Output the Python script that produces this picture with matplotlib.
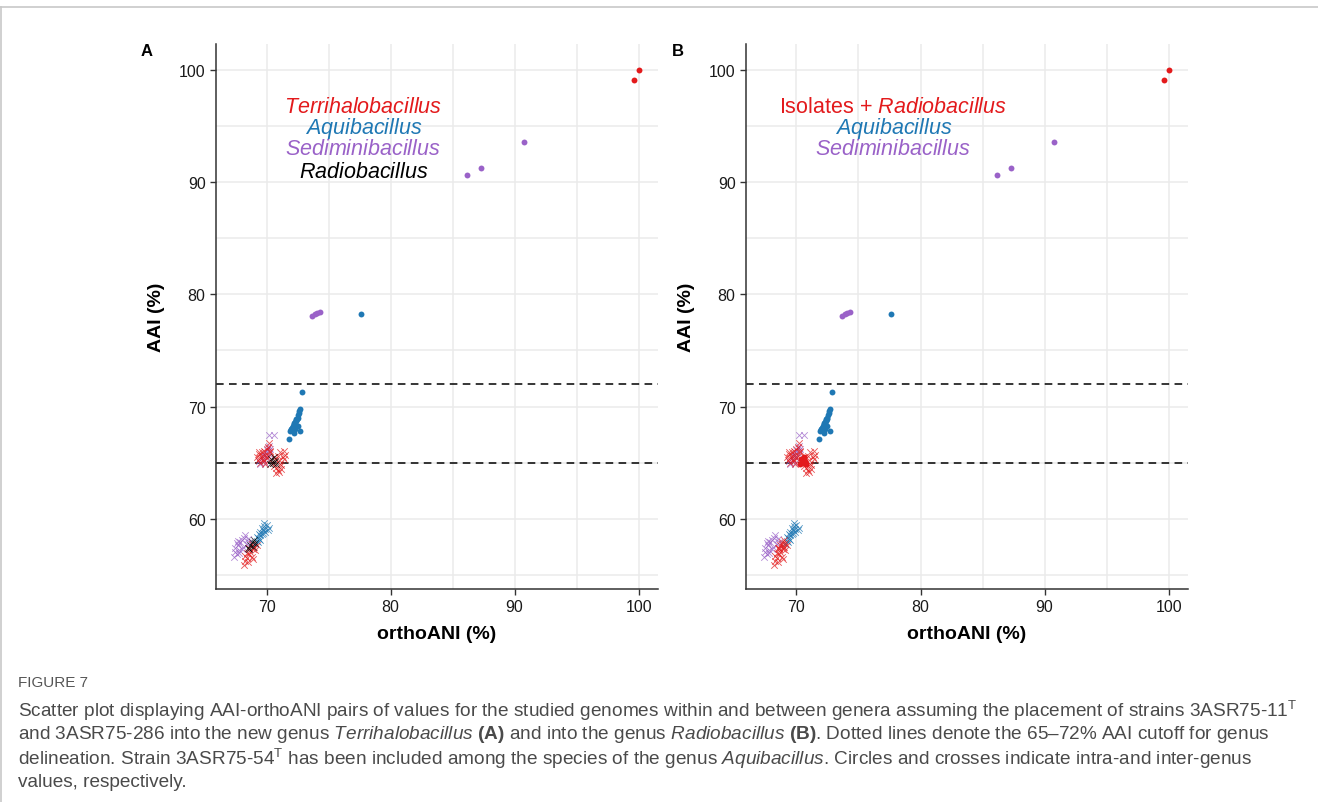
import matplotlib
matplotlib.use("Agg")
import matplotlib.pyplot as plt
from matplotlib.lines import Line2D

plt.rcParams['font.family'] = ['Liberation Sans', 'DejaVu Sans']
plt.rcParams['mathtext.fontset'] = 'custom'
plt.rcParams['mathtext.rm'] = 'Liberation Sans'
plt.rcParams['mathtext.it'] = 'Liberation Sans:italic'
plt.rcParams['mathtext.bf'] = 'Liberation Sans:bold'

RED = '#E31A1C'
BLUE = '#1F78B4'
PURPLE = '#9A62C8'

# intra-genus pairs (circles)
terri_intra_x = [99.6, 100.0]
terri_intra_y = [99.1, 100.0]
sedi_intra_x = [86.2, 87.3, 90.8, 73.7, 73.9, 74.1, 74.3]
sedi_intra_y = [90.7, 91.25, 93.6, 78.1, 78.25, 78.35, 78.4]
aqui_intra_x = [72.85, 72.7, 72.65, 72.6, 72.55, 72.5, 72.45, 72.4, 72.35, 72.3, 72.25, 72.2,
                72.15, 72.1, 72.05, 72.0, 71.95, 71.9, 72.3, 72.5, 72.7, 71.8, 72.2, 72.4, 77.6]
aqui_intra_y = [71.3, 69.8, 69.6, 69.4, 69.2, 69.0, 68.9, 68.8, 68.7, 68.6, 68.5, 68.4,
                68.3, 68.2, 68.1, 68.0, 67.9, 67.8, 68.0, 68.3, 67.8, 67.1, 67.6, 68.9, 78.25]

# inter-genus pairs (crosses)
terri_cross_x = [69.2, 69.3, 69.4, 69.5, 69.6, 69.7, 69.8, 69.9, 70.0, 70.1, 70.2, 70.3, 69.4, 69.6,
                 69.8, 70.0, 70.1, 69.5, 69.9, 70.3,
                 70.5, 70.6, 70.7, 70.8, 70.9, 71.0, 71.1, 71.2, 71.3, 71.4, 71.5, 71.0, 70.8, 71.2,
                 70.6, 71.1, 71.4, 70.9,
                 68.2, 68.3, 68.4, 68.5, 68.6, 68.7, 68.8, 68.9, 69.0, 69.1, 68.4, 68.6, 68.8, 69.2,
                 68.3, 68.9]
terri_cross_y = [65.5, 65.2, 65.8, 65.0, 65.6, 65.3, 66.0, 64.9, 65.4, 66.4, 66.7, 65.9, 65.9, 65.9,
                 65.1, 66.2, 65.6, 65.4, 65.7, 66.0,
                 65.0, 64.7, 65.3, 64.5, 65.6, 64.2, 65.9, 64.8, 65.5, 66.0, 65.7, 65.2, 64.1, 64.4,
                 65.5, 64.9, 65.3, 64.3,
                 55.9, 56.2, 56.5, 56.1, 56.8, 57.0, 56.6, 57.3, 57.5, 57.2, 56.9, 57.4, 57.7, 57.6,
                 56.7, 56.4]
sedi_cross_x = [69.4, 69.6, 69.8, 69.9, 70.0, 70.1, 70.2, 70.3, 69.7, 69.9, 70.0, 70.2, 69.5, 69.8,
                70.2, 70.6,
                67.4, 67.5, 67.5, 67.6, 67.7, 67.8, 67.9, 68.0, 68.1, 68.2, 68.3, 68.5, 68.6, 67.6,
                67.8, 68.0, 67.7, 68.4]
sedi_cross_y = [65.1, 65.4, 65.6, 65.9, 66.1, 66.3, 66.5, 66.2, 65.2, 65.0, 65.5, 65.8, 64.9, 65.7,
                67.5, 67.5,
                56.6, 57.0, 57.4, 56.8, 57.6, 57.2, 57.9, 58.1, 57.5, 58.3, 58.5, 58.2, 57.9, 57.8,
                56.9, 57.3, 58.0, 57.7]
aqui_cross_x = [69.1, 69.2, 69.3, 69.3, 69.4, 69.5, 69.5, 69.6, 69.7, 69.7, 69.8, 69.9, 70.0, 70.1,
                69.4, 69.6, 69.8, 69.2, 69.9, 70.2, 69.5]
aqui_cross_y = [57.7, 58.0, 57.9, 58.3, 58.2, 58.5, 58.8, 58.6, 59.0, 58.7, 59.3, 59.1, 59.4, 59.0,
                58.6, 59.2, 59.6, 58.4, 58.8, 59.2, 58.1]
# Radiobacillus vs Terrihalobacillus, and Radiobacillus vs the rest
radio_terri_x = [70.3, 70.4, 70.5, 70.6, 70.7, 70.8]
radio_terri_y = [64.9, 65.3, 65.0, 65.5, 65.1, 64.9]
radio_other_x = [68.5, 68.7, 68.8, 68.9, 69.0, 69.1, 68.6]
radio_other_y = [57.4, 57.6, 57.9, 57.5, 58.1, 57.8, 57.3]

labels_a = ['$\\mathit{Terrihalobacillus}$', '$\\mathit{Aquibacillus}$',
            '$\\mathit{Sediminibacillus}$', '$\\mathit{Radiobacillus}$']
colors_a = [RED, BLUE, PURPLE, 'black']
labels_b = ['Isolates + $\\mathit{Radiobacillus}$', '$\\mathit{Aquibacillus}$',
            '$\\mathit{Sediminibacillus}$']
colors_b = [RED, BLUE, PURPLE]
label_y = [96.8, 94.9, 93.0, 91.0]

fig = plt.figure(figsize=(13.18, 8.03), dpi=100)

# frame lines of the figure box
fig.add_artist(Line2D([0, 1], [0.990, 0.990], color='#C8C8C8', lw=1.2))
fig.add_artist(Line2D([0.001, 0.001], [0, 0.990], color='#C8C8C8', lw=1.2))


def draw_panel(ax, panel):
    ax.set_xlim(65.93, 101.57)
    ax.set_ylim(53.72, 102.35)
    for v in [70, 75, 80, 85, 90, 95, 100]:
        ax.axvline(v, color='#EBEBEB', lw=1.1, zorder=0)
    for v in [55, 60, 65, 70, 75, 80, 85, 90, 95, 100]:
        ax.axhline(v, color='#EBEBEB', lw=1.1, zorder=0)
    ax.axhline(72, color='black', lw=1.1, ls=(0, (5, 3.5)), zorder=1)
    ax.axhline(65, color='black', lw=1.1, ls=(0, (5, 3.5)), zorder=1)

    ck = dict(marker='x', s=22, linewidths=0.6, alpha=0.75, zorder=2)
    ok = dict(marker='o', s=18, linewidths=0, zorder=3)
    ax.scatter(sedi_cross_x, sedi_cross_y, color=PURPLE, **ck)
    ax.scatter(aqui_cross_x, aqui_cross_y, color=BLUE, **ck)
    ax.scatter(terri_cross_x, terri_cross_y, color=RED, **ck)
    if panel == 'A':
        ax.scatter(radio_terri_x, radio_terri_y, color='black', **ck)
        ax.scatter(radio_other_x, radio_other_y, color='black', **ck)
    else:
        ax.scatter(radio_other_x, radio_other_y, color=RED, **ck)
        ax.scatter(radio_terri_x, radio_terri_y, color=RED, **ok)
    ax.scatter(terri_intra_x, terri_intra_y, color=RED, **ok)
    ax.scatter(sedi_intra_x, sedi_intra_y, color=PURPLE, **ok)
    ax.scatter(aqui_intra_x, aqui_intra_y, color=BLUE, **ok)

    labs, cols = (labels_a, colors_a) if panel == 'A' else (labels_b, colors_b)
    for lab, col, yy in zip(labs, cols, label_y):
        ax.text(77.8, yy, lab, color=col, fontsize=15.5, ha='center', va='center',
                math_fontfamily='custom')

    for side in ['top', 'right']:
        ax.spines[side].set_visible(False)
    for side in ['left', 'bottom']:
        ax.spines[side].set_color('#333333')
        ax.spines[side].set_linewidth(1.1)
    ax.set_xticks([70, 80, 90, 100])
    ax.set_yticks([60, 70, 80, 90, 100])
    ax.tick_params(length=4, width=1, color='#333333', labelsize=11.5, labelcolor='#1A1A1A')
    ax.set_xlabel('orthoANI (%)', fontsize=14, fontweight='bold', labelpad=8)
    ax.set_ylabel('AAI (%)', fontsize=14, fontweight='bold', labelpad=10)
    ax.set_facecolor('white')


ax_a = fig.add_axes([0.1639, 0.2653, 0.3354, 0.6787])
ax_b = fig.add_axes([0.5660, 0.2653, 0.3354, 0.6787])
draw_panel(ax_a, 'A')
draw_panel(ax_b, 'B')
fig.text(147 / 1318, 1 - 52 / 803, 'A', fontsize=12, fontweight='bold', ha='center', va='center')
fig.text(678 / 1318, 1 - 52 / 803, 'B', fontsize=12, fontweight='bold', ha='center', va='center')

fig.text(18 / 1318, 1 - 683 / 803, 'FIGURE 7', fontsize=11, color='#555555', va='center')
caption = [
    'Scatter plot displaying AAI-orthoANI pairs of values for the studied genomes within and between genera '
    'assuming the placement of strains 3ASR75-11$^{\\mathrm{T}}$',
    'and 3ASR75-286 into the new genus $\\mathit{Terrihalobacillus}$ $\\mathbf{(A)}$ and into the genus '
    '$\\mathit{Radiobacillus}$ $\\mathbf{(B)}$. Dotted lines denote the 65\u201372% AAI cutoff for genus',
    'delineation. Strain 3ASR75-54$^{\\mathrm{T}}$ has been included among the species of the genus '
    '$\\mathit{Aquibacillus}$. Circles and crosses indicate intra-and inter-genus',
    'values, respectively.',
]
for i, line in enumerate(caption):
    fig.text(18 / 1318, 1 - (711 + 24 * i) / 803, line, fontsize=13.7, color='#4A4A4A',
             va='center', math_fontfamily='custom')

fig.savefig('out.png', dpi=100, facecolor='white')
